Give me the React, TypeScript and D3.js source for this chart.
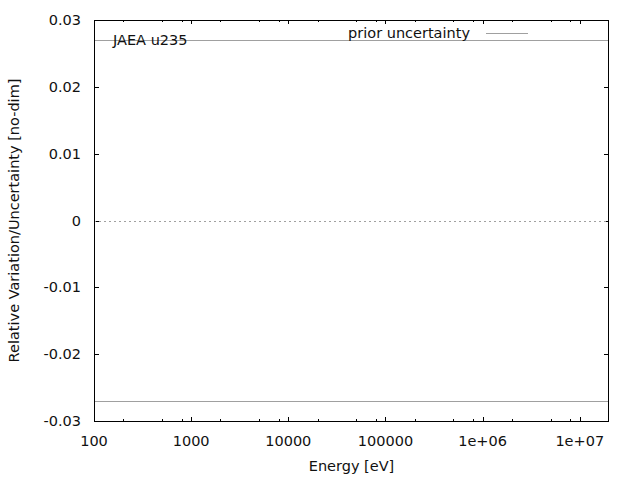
import { useEffect, useRef } from 'react';
import * as d3 from 'd3';

// data
const energyRange = [100, 2e7];
const priorUncertainty = [0.027, 0.027];
const zeroLine = [0, 0];
const xTickValues = [100, 1000, 10000, 100000, 1e6, 1e7];
const xTickLabels = ['100', '1000', '10000', '100000', '1e+06', '1e+07'];
const yTickValues = [-0.03, -0.02, -0.01, 0, 0.01, 0.02, 0.03];
const yTickLabels = ['-0.03', '-0.02', '-0.01', '0', '0.01', '0.02', '0.03'];
const minorFactors = [2, 5, 8];

export default function App() {
  const ref = useRef<SVGSVGElement | null>(null);

  useEffect(() => {
    if (!ref.current) return;
    const width = 640;
    const height = 480;
    const margin = { top: 20, right: 31, bottom: 59, left: 94 };
    const font = 'DejaVu Sans, sans-serif';

    const svg = d3.select(ref.current);
    svg.selectAll('*').remove();
    svg.attr('width', width).attr('height', height);

    const x = d3
      .scaleLog()
      .domain(energyRange as [number, number])
      .range([margin.left, width - margin.right]);
    const y = d3
      .scaleLinear()
      .domain([-0.03, 0.03])
      .range([height - margin.bottom, margin.top]);

    const x0 = margin.left;
    const x1 = width - margin.right;
    const y0 = height - margin.bottom;
    const y1 = margin.top;

    // minor x ticks (bottom and top)
    const minors: number[] = [];
    xTickValues.forEach(v => minorFactors.forEach(f => {
      const m = v * f;
      if (m < energyRange[1]) minors.push(m);
    }));
    const g = svg.append('g').attr('stroke', '#000').attr('stroke-width', 1);
    minors.forEach(m => {
      const px = Math.round(x(m)) + 0.5;
      g.append('line').attr('x1', px).attr('x2', px).attr('y1', y0).attr('y2', y0 - 2);
      g.append('line').attr('x1', px).attr('x2', px).attr('y1', y1).attr('y2', y1 + 2);
    });
    xTickValues.forEach(v => {
      const px = Math.round(x(v)) + 0.5;
      g.append('line').attr('x1', px).attr('x2', px).attr('y1', y0).attr('y2', y0 - 4);
      g.append('line').attr('x1', px).attr('x2', px).attr('y1', y1).attr('y2', y1 + 4);
    });
    yTickValues.forEach(v => {
      const py = Math.round(y(v)) + 0.5;
      g.append('line').attr('x1', x0).attr('x2', x0 + 5).attr('y1', py).attr('y2', py);
      g.append('line').attr('x1', x1).attr('x2', x1 - 5).attr('y1', py).attr('y2', py);
    });

    // zero line
    const line = d3
      .line<number>()
      .x((_, i) => x(energyRange[i]))
      .y(d => Math.round(y(d)) + 0.5);
    svg
      .append('path')
      .datum(zeroLine)
      .attr('fill', 'none')
      .attr('stroke', '#a0a0a0')
      .attr('stroke-width', 1)
      .attr('stroke-dasharray', '2,3')
      .attr('d', line);

    // prior uncertainty band edges
    [priorUncertainty, priorUncertainty.map(d => -d)].forEach(series => {
      svg
        .append('path')
        .datum(series)
        .attr('fill', 'none')
        .attr('stroke', '#a0a0a0')
        .attr('stroke-width', 1)
        .attr('d', line);
    });

    // frame
    svg
      .append('rect')
      .attr('x', x0 + 0.5)
      .attr('y', y1 + 0.5)
      .attr('width', x1 - x0 - 1)
      .attr('height', y0 - y1)
      .attr('fill', 'none')
      .attr('stroke', '#000');

    // tick labels
    const text = svg.append('g').attr('font-family', font).attr('font-size', 14.5).attr('fill', '#111');
    xTickValues.forEach((v, i) => {
      text
        .append('text')
        .attr('x', x(v))
        .attr('y', y0 + 25)
        .attr('text-anchor', 'middle')
        .text(xTickLabels[i]);
    });
    yTickValues.forEach((v, i) => {
      text
        .append('text')
        .attr('x', x0 - 13)
        .attr('y', y(v) + 5)
        .attr('text-anchor', 'end')
        .text(yTickLabels[i]);
    });

    text
      .append('text')
      .attr('x', (x0 + x1) / 2)
      .attr('y', 471)
      .attr('text-anchor', 'middle')
      .text('Energy [eV]');
    text
      .append('text')
      .attr('transform', `translate(19,${(y0 + y1) / 2}) rotate(-90)`)
      .attr('text-anchor', 'middle')
      .text('Relative Variation/Uncertainty [no-dim]');

    text.append('text').attr('x', 113).attr('y', 45).text('JAEA u235');

    // legend
    text
      .append('text')
      .attr('x', 470)
      .attr('y', 38)
      .attr('text-anchor', 'end')
      .text('prior uncertainty');
    svg
      .append('line')
      .attr('x1', 486)
      .attr('x2', 528)
      .attr('y1', 33.5)
      .attr('y2', 33.5)
      .attr('stroke', '#a0a0a0');
  }, []);

  return <svg ref={ref} style={{ position: 'absolute', left: 0, top: 0, background: '#fff' }} />;
}
